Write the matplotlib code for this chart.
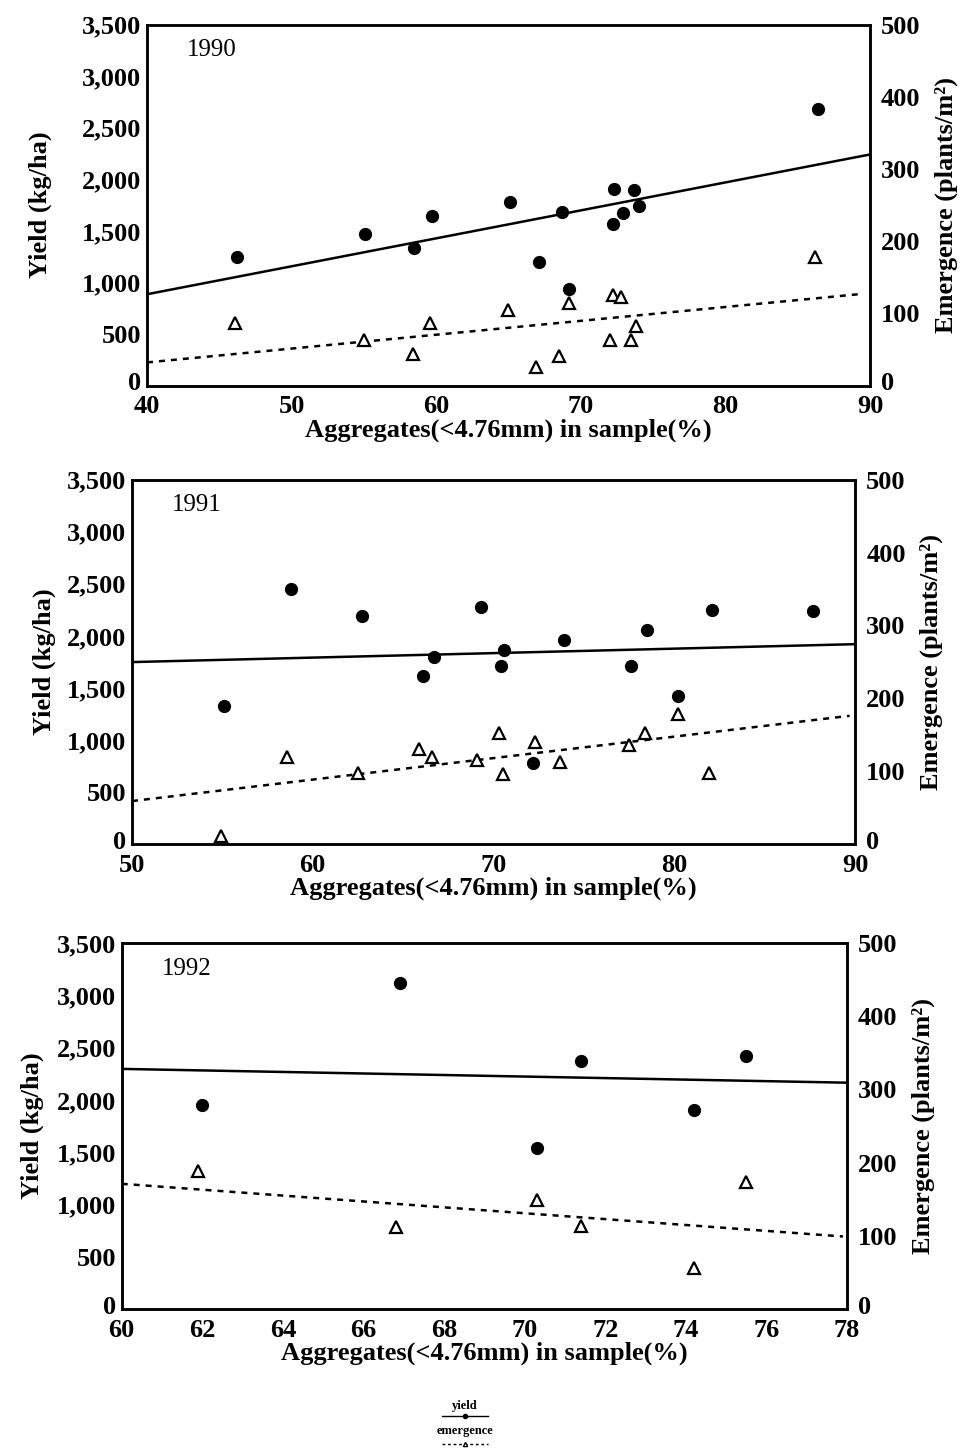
import numpy as np
import matplotlib
matplotlib.use('Agg')
import matplotlib.pyplot as plt
import matplotlib.transforms as mtransforms
from matplotlib.ticker import FuncFormatter

plt.rcParams['font.family'] = ['Liberation Serif', 'DejaVu Serif']

# ---- 1990 ----
x90_yield = [46.2, 55.1, 58.5, 59.7, 65.1, 67.1, 68.7, 69.2, 72.3, 72.2, 72.9, 73.7, 74.0, 86.4]
yield90 = [1247, 1466, 1334, 1648, 1776, 1202, 1679, 937, 1902, 1563, 1677, 1894, 1742, 2685]
x90_emerg = [46.1, 55.0, 58.4, 59.6, 65.0, 66.9, 68.5, 69.2, 72.0, 72.2, 72.8, 73.5, 73.8, 86.2]
emerg90 = [87, 63, 44, 86, 105, 25, 41, 114, 63, 125, 123, 63, 83, 178]
fit90_x = [40, 90]
fit90_yield = [885, 2240]
fit90_ex = [40, 89.5]
fit90_emerg = [32, 127]

# ---- 1991 ----
x91_yield = [55.1, 58.8, 62.7, 66.1, 66.7, 69.3, 70.4, 70.6, 72.2, 73.9, 77.6, 78.5, 80.2, 82.1, 87.7]
yield91 = [1324, 2453, 2194, 1610, 1794, 2281, 1706, 1866, 780, 1962, 1713, 2058, 1420, 2247, 2236]
x91_emerg = [54.9, 58.6, 62.5, 65.9, 66.6, 69.1, 70.3, 70.5, 72.3, 73.7, 77.5, 78.4, 80.2, 81.9]
emerg91 = [11, 120, 97, 131, 120, 116, 152, 96, 140, 112, 136, 152, 178, 98]
fit91_x = [50, 90]
fit91_yield = [1748, 1920]
fit91_ex = [50, 89.7]
fit91_emerg = [59, 176]

# ---- 1992 ----
x92_yield = [62.0, 66.9, 70.3, 71.4, 74.2, 75.5]
yield92 = [1947, 3116, 1542, 2375, 1899, 2416]
x92_emerg = [61.9, 66.8, 70.3, 71.4, 74.2, 75.5]
emerg92 = [189, 112, 149, 114, 56, 173]
fit92_x = [60, 78]
fit92_yield = [2296, 2164]
fit92_ex = [60, 77.9]
fit92_emerg = [171, 99]

years = ['1990', '1991', '1992']
xlims = [(40, 90), (50, 90), (60, 78)]
xticks = [np.arange(40, 91, 10), np.arange(50, 91, 10), np.arange(60, 79, 2)]
positions = [[0.1517, 0.7343, 0.7461, 0.2488],
             [0.1362, 0.4183, 0.7462, 0.2511],
             [0.1256, 0.0979, 0.7485, 0.2522]]
ylabel_pads = [22, 8, 9]
panels = [
    (x90_yield, yield90, x90_emerg, emerg90, fit90_x, fit90_yield, fit90_ex, fit90_emerg),
    (x91_yield, yield91, x91_emerg, emerg91, fit91_x, fit91_yield, fit91_ex, fit91_emerg),
    (x92_yield, yield92, x92_emerg, emerg92, fit92_x, fit92_yield, fit92_ex, fit92_emerg),
]

fig = plt.figure(figsize=(9.69, 14.51), dpi=100)
tick_fs = 19
label_fs = 19
comma = FuncFormatter(lambda v, p: f'{v:,.0f}')
nudge_up = mtransforms.ScaledTranslation(0, 3 / 72, fig.dpi_scale_trans)

for i, (xy, yy, xe, ye, fx, fy, fex, fey) in enumerate(panels):
    ax = fig.add_axes(positions[i])
    ax2 = ax.twinx()

    ax.plot(fx, fy, color='black', lw=1.8, solid_capstyle='butt')
    ax.plot(xy, yy, 'o', color='black', markersize=8.5)
    ax2.plot(fex, fey, color='black', lw=1.8, linestyle=(0, (2.4, 2.4)))
    ax2.plot(xe, ye, '^', markerfacecolor='white', markeredgecolor='black',
             markeredgewidth=1.6, markersize=8)

    ax.set_xlim(*xlims[i])
    ax.set_ylim(0, 3500)
    ax2.set_ylim(0, 500)
    ax.set_xticks(xticks[i])
    ax.set_yticks(np.arange(0, 3501, 500))
    ax2.set_yticks(np.arange(0, 501, 100))
    ax.yaxis.set_major_formatter(comma)

    for a in (ax, ax2):
        a.tick_params(length=0, labelsize=tick_fs)
        for s in a.spines.values():
            s.set_linewidth(1.8)
        for lab in a.get_xticklabels() + a.get_yticklabels():
            lab.set_fontweight('bold')
    ax.tick_params(axis='y', pad=4)
    ax.tick_params(axis='x', pad=7)
    ax2.tick_params(axis='y', pad=8)
    # corner zeros sit a touch above the axis line
    for lab in (ax.get_yticklabels()[0], ax2.get_yticklabels()[0]):
        lab.set_transform(lab.get_transform() + nudge_up)

    ax.set_ylabel('Yield (kg/ha)', fontsize=label_fs, fontweight='bold',
                  labelpad=ylabel_pads[i])
    ax2.set_ylabel('Emergence (plants/m²)', fontsize=label_fs, fontweight='bold',
                   labelpad=10, rotation=90)
    ax.set_xlabel('Aggregates(<4.76mm) in sample(%)', fontsize=19,
                  fontweight='bold', labelpad=0)
    ax.text(0.055, 0.96, years[i], transform=ax.transAxes, fontsize=18,
            va='top', ha='left')

# small legend key at the bottom
leg = fig.add_axes([0.44, 0.0, 0.08, 0.04])
leg.axis('off')
leg.set_xlim(0, 1)
leg.set_ylim(0, 1)
leg.text(0.5, 0.78, 'yield', ha='center', va='center', fontsize=9, fontweight='bold')
leg.plot([0.2, 0.8], [0.6, 0.6], color='black', lw=1)
leg.plot([0.5], [0.6], 'o', color='black', markersize=3)
leg.text(0.5, 0.35, 'emergence', ha='center', va='center', fontsize=9, fontweight='bold')
leg.plot([0.2, 0.8], [0.12, 0.12], color='black', lw=1, linestyle=(0, (2, 2)))
leg.plot([0.5], [0.12], '^', markerfacecolor='white', markeredgecolor='black', markersize=3)

fig.savefig('out.png', dpi=100)
